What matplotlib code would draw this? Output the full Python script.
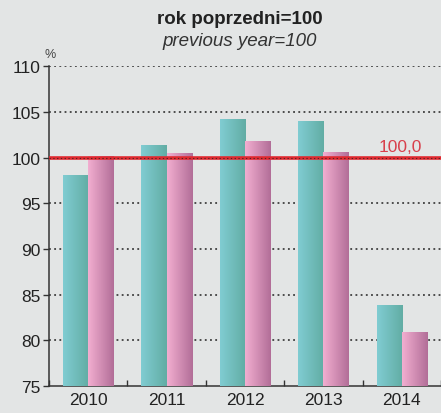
import matplotlib.pyplot as plt
import numpy as np
from matplotlib.colors import LinearSegmentedColormap

"""DATA"""
years = ["2010", "2011", "2012", "2013", "2014"]
series_a = [98.0, 101.3, 104.2, 103.9, 83.8]
series_b = [100.1, 100.4, 101.7, 100.5, 80.8]
y_ticks = [75, 80, 85, 90, 95, 100, 105, 110]
ref_value = 100.0

"""COLORS AND STYLE"""
_bg = "#e3e5e5"
_teal = LinearSegmentedColormap.from_list("teal", ["#80ccd2", "#62ada4"])
_pink = LinearSegmentedColormap.from_list("pink", ["#f2aed0", "#b26e98"])
_red = "#e02a30"
plt.rcParams['font.family'] = ['Liberation Sans', 'DejaVu Sans']

fig = plt.figure(figsize=(4.41, 4.14), dpi=100, facecolor=_bg)
ax = fig.add_axes([0.111, 0.065, 0.889, 0.773])
ax.set_facecolor(_bg)

x = np.arange(len(years))
w = 0.32
grad = np.linspace(0, 1, 64).reshape(1, -1)

# bars drawn invisibly, then filled with a horizontal gradient
for cmap, vals, off in [(_teal, series_a, -w / 2), (_pink, series_b, w / 2)]:
    bars = ax.bar(x + off, vals, width=w, bottom=0, color="none", zorder=3)
    for b in bars:
        x0 = b.get_x()
        ax.imshow(grad, cmap=cmap, aspect="auto", zorder=3,
                  extent=(x0, x0 + b.get_width(), 75, b.get_height()))

ax.set_xlim(-0.5, len(years) - 0.5)
ax.set_ylim(75, 110)

for yv in y_ticks[1:]:
    ax.axhline(yv, color="#222222", linewidth=1.1, linestyle=(0, (1.2, 2.2)), zorder=1)
ax.axhline(ref_value, color=_red, linewidth=2.6, zorder=4)
ax.axhline(ref_value, color="#552222", linewidth=0.8, linestyle=(0, (1.2, 2.2)), zorder=5)
ax.text(3.98, ref_value + 0.35, "100,0", color="#d8404c", fontsize=12.5, ha="center", va="bottom", zorder=6)

ax.set_yticks(y_ticks)
ax.set_yticklabels([str(v) for v in y_ticks], fontsize=12.5, color="#222222")
ax.set_xticks(np.arange(len(years) + 1) - 0.5, minor=False)
ax.set_xticklabels([])
ax.set_xticks(x, minor=True)
ax.set_xticklabels(years, minor=True, fontsize=12.5, color="#222222")
ax.tick_params(axis="x", which="major", direction="in", length=4, width=1, color="#333333")
ax.tick_params(axis="x", which="minor", length=0, pad=4)
ax.tick_params(axis="y", direction="out", length=4, width=1, color="#333333", pad=2)

for s in ["top", "right"]:
    ax.spines[s].set_visible(False)
for s in ["left", "bottom"]:
    ax.spines[s].set_color("#333333")
    ax.spines[s].set_linewidth(1.1)

fig.text(0.544, 0.952, "rok poprzedni=100", fontsize=13.5, fontweight="bold", ha="center", va="center", color="#222222")
fig.text(0.544, 0.899, "previous year=100", fontsize=13.5, style="italic", ha="center", va="center", color="#333333")
fig.text(0.114, 0.867, "%", fontsize=9, ha="center", va="center", color="#444444")

fig.savefig("out.png", dpi=100, facecolor=_bg)
